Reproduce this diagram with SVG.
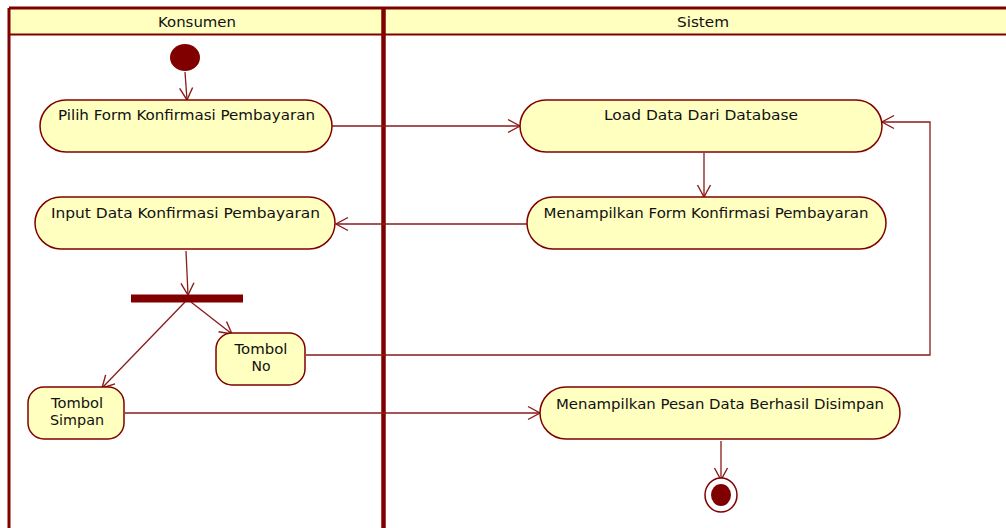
<svg xmlns="http://www.w3.org/2000/svg" width="1006" height="528" viewBox="0 0 1006 528">
  <style>
    .lane { fill: none; stroke: #800000; }
    .head { fill: #ffffc0; stroke: none; }
    .act { fill: #ffffc0; stroke: #800000; stroke-width: 1.5; }
    .lbl { font-family: "DejaVu Sans", Verdana, sans-serif; font-size: 14px; fill: #111; text-anchor: middle; }
    .flow { fill: none; stroke: #8b1a1a; stroke-width: 1.3; marker-end: url(#open); }
  </style>
  <defs>
    <marker id="open" markerUnits="userSpaceOnUse" markerWidth="16" markerHeight="16" viewBox="0 0 16 16" refX="14" refY="8" orient="auto">
      <path d="M2,1.5 L14,8 L2,14.5" fill="none" stroke="#8b1a1a" stroke-width="1.4"/>
    </marker>
  </defs>

  <rect width="1006" height="528" fill="#ffffff"/>

  <!-- swimlanes -->
  <g id="lanes">
    <rect class="head" x="9" y="8" width="1000" height="26"/>
    <line class="lane" x1="9" y1="8" x2="1006" y2="8" stroke-width="3"/>
    <line class="lane" x1="9" y1="34.5" x2="1006" y2="34.5" stroke-width="2"/>
    <line class="lane" x1="9" y1="8" x2="9" y2="528" stroke-width="3"/>
    <line class="lane" x1="383.5" y1="8" x2="383.5" y2="528" stroke-width="4.5"/>
    <text class="lbl" x="197" y="27" textLength="78" lengthAdjust="spacingAndGlyphs">Konsumen</text>
    <text class="lbl" x="703" y="27" textLength="52" lengthAdjust="spacingAndGlyphs">Sistem</text>
  </g>

  <!-- connectors -->
  <g id="connectors">
    <line class="flow" x1="185" y1="72" x2="187" y2="100"/>
    <line class="flow" x1="332" y1="126" x2="520" y2="126"/>
    <line class="flow" x1="704" y1="153" x2="704" y2="197"/>
    <line class="flow" x1="527" y1="224" x2="336" y2="224"/>
    <line class="flow" x1="186" y1="251" x2="188" y2="295"/>
    <line class="flow" x1="191" y1="302" x2="232" y2="334"/>
    <line class="flow" x1="185" y1="302" x2="102" y2="388"/>
    <polyline class="flow" points="306,355 930,355 930,122 882,122"/>
    <line class="flow" x1="125" y1="413" x2="540" y2="413"/>
    <line class="flow" x1="721" y1="441" x2="721" y2="480"/>
  </g>

  <g id="start">
    <ellipse cx="185" cy="57.5" rx="15" ry="13.5" fill="#800000"/>
  </g>

  <g id="pilih-form">
    <rect class="act" x="40" y="100" width="292" height="52" rx="26"/>
    <text class="lbl" x="186.5" y="120" textLength="257" lengthAdjust="spacingAndGlyphs">Pilih Form Konfirmasi Pembayaran</text>
  </g>

  <g id="load-data">
    <rect class="act" x="520" y="100" width="362" height="52" rx="26"/>
    <text class="lbl" x="701" y="120" textLength="194" lengthAdjust="spacingAndGlyphs">Load Data Dari Database</text>
  </g>

  <g id="tampil-form">
    <rect class="act" x="527" y="197" width="359" height="52" rx="26"/>
    <text class="lbl" x="706" y="218" textLength="325" lengthAdjust="spacingAndGlyphs">Menampilkan Form Konfirmasi Pembayaran</text>
  </g>

  <g id="input-data">
    <rect class="act" x="35" y="197" width="300" height="52" rx="26"/>
    <text class="lbl" x="185.5" y="218" textLength="269" lengthAdjust="spacingAndGlyphs">Input Data Konfirmasi Pembayaran</text>
  </g>

  <g id="fork">
    <rect x="131" y="294.5" width="112" height="8" fill="#800000"/>
  </g>

  <g id="tombol-no">
    <rect class="act" x="216" y="333" width="89" height="52" rx="16"/>
    <text class="lbl" x="261" y="354" textLength="53" lengthAdjust="spacingAndGlyphs">Tombol</text>
    <text class="lbl" x="261" y="371">No</text>
  </g>

  <g id="tombol-simpan">
    <rect class="act" x="28" y="387" width="96" height="52" rx="16"/>
    <text class="lbl" x="77" y="408" textLength="52" lengthAdjust="spacingAndGlyphs">Tombol</text>
    <text class="lbl" x="77" y="425" textLength="54" lengthAdjust="spacingAndGlyphs">Simpan</text>
  </g>

  <g id="tampil-pesan">
    <rect class="act" x="540" y="387" width="360" height="52" rx="26"/>
    <text class="lbl" x="720" y="409" textLength="328" lengthAdjust="spacingAndGlyphs">Menampilkan Pesan Data Berhasil Disimpan</text>
  </g>

  <g id="end">
    <ellipse cx="721" cy="495" rx="16" ry="17" fill="#ffffff" stroke="#800000" stroke-width="1.5"/>
    <ellipse cx="721" cy="495" rx="10" ry="11" fill="#800000"/>
  </g>
</svg>
